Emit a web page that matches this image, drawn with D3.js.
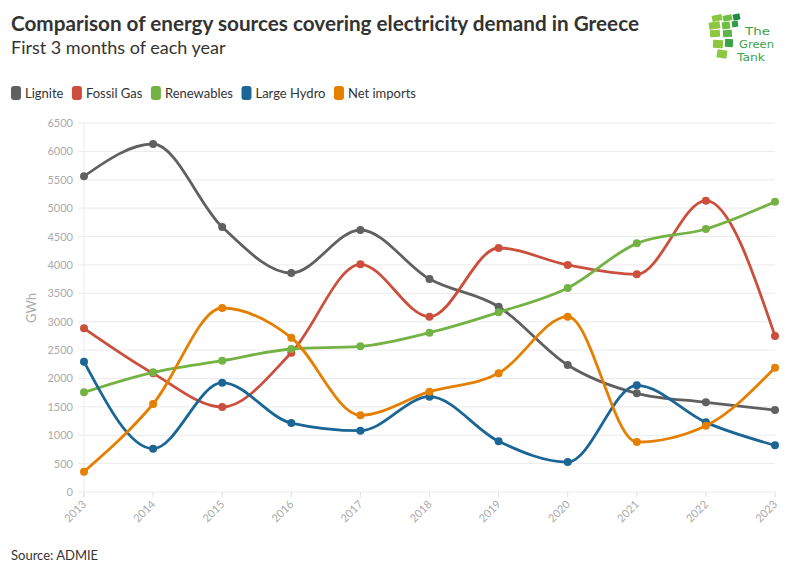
<!DOCTYPE html>
<html><head><meta charset="utf-8">
<script src="https://cdn.jsdelivr.net/npm/d3@7"></script>
<style>body{margin:0;background:#fff;}svg{display:block;font-family:Lato,"Source Sans Pro","Open Sans",sans-serif;}</style>
</head><body>
<svg id="c" width="796" height="575"></svg>
<script>
const years = [2013,2014,2015,2016,2017,2018,2019,2020,2021,2022,2023];
const lignite    = [5560,6130,4668,3858,4615,3752,3264,2237,1738,1580,1444];
const fossilGas  = [2884,2090,1497,2454,4010,3088,4298,3999,3834,5132,2748];
const renewables = [1756,2108,2313,2519,2566,2807,3165,3594,4380,4633,5114];
const largeHydro = [2296,763,1926,1215,1080,1679,893,528,1879,1227,822];
const netImports = [358,1550,3241,2718,1351,1767,2090,3088,881,1168,2190];
const seriesNames = ["Lignite","Fossil Gas","Renewables","Large Hydro","Net imports"];
const colors = ["#606060","#cb4f3c","#74b244","#1b6694","#e47f00"];
const yTicks = [0,500,1000,1500,2000,2500,3000,3500,4000,4500,5000,5500,6000,6500];

const seriesData = [lignite,fossilGas,renewables,largeHydro,netImports];
const svg = d3.select("#c");
const x = d3.scalePoint().domain(years).range([84,775]);
const y = d3.scaleLinear().domain([0,6500]).range([492,123]);

// title
svg.append("text").attr("x",11).attr("y",31).attr("font-size",20.7).attr("font-weight",700).attr("fill","#333")
  .text("Comparison of energy sources covering electricity demand in Greece");
svg.append("text").attr("x",11).attr("y",54).attr("font-size",18).attr("fill","#333")
  .text("First 3 months of each year");

// legend
let lx = 11;
seriesNames.forEach((n,i)=>{
  const g = svg.append("g");
  g.append("rect").attr("x",lx).attr("y",86).attr("width",10).attr("height",14).attr("rx",3).attr("fill",colors[i]);
  const t = g.append("text").attr("x",lx+14).attr("y",98).attr("font-size",13).attr("fill","#333").text(n);
  lx += 14 + t.node().getComputedTextLength() + 8.5;
});

// grid
svg.append("g").selectAll("line").data(yTicks).join("line")
  .attr("x1",78).attr("x2",775).attr("y1",d=>y(d)).attr("y2",d=>y(d))
  .attr("stroke","#ebebeb").attr("stroke-width",1);
svg.append("line").attr("x1",84).attr("x2",84).attr("y1",123).attr("y2",497).attr("stroke","#ebebeb");
svg.append("g").selectAll("line").data(years).join("line")
  .attr("x1",d=>x(d)).attr("x2",d=>x(d)).attr("y1",492).attr("y2",497).attr("stroke","#e0e0e0");

// y axis labels
svg.append("g").selectAll("text").data(yTicks).join("text")
  .attr("x",73).attr("y",d=>y(d)+4).attr("text-anchor","end").attr("font-size",11).attr("fill","#aaa").text(d=>d);
svg.append("text").attr("transform","translate(36,308) rotate(-90)").attr("text-anchor","middle")
  .attr("font-size",13).attr("fill","#aaa").text("GWh");

// x axis labels
svg.append("g").selectAll("text").data(years).join("text")
  .attr("transform",d=>`translate(${x(d)+3},${505}) rotate(-45)`).attr("text-anchor","end")
  .attr("font-size",11).attr("fill","#aaa").text(d=>d);

// lines
const line = d3.line().x((d,i)=>x(years[i])).y(d=>y(d)).curve(d3.curveMonotoneX);
seriesData.forEach((s,k)=>{
  svg.append("path").attr("d",line(s)).attr("fill","none").attr("stroke",colors[k]).attr("stroke-width",2.8);
  svg.append("g").selectAll("circle").data(s).join("circle")
    .attr("cx",(d,i)=>x(years[i])).attr("cy",d=>y(d)).attr("r",4).attr("fill",colors[k]);
});

// source
svg.append("text").attr("x",11).attr("y",560).attr("font-size",13).attr("fill","#333").text("Source: ADMIE");

// logo
const logo = svg.append("g");
const blocks = [
  [712,15,10,6,"#8dc63f"],[723,15,9,6,"#6fbe44"],[733,14,7,6,"#1e8a44"],
  [709,22,11,7,"#8dc63f"],[722,22,8,7,"#6fbe44"],[732,21,6,6,"#2e9b48"],
  [710,30,10,7,"#8dc63f"],[723,30,9,7,"#5cb746"],
  [713,40,10,8,"#8dc63f"],[725,39,8,8,"#3aa348"],
  [717,50,10,8,"#8dc63f"]
];
logo.selectAll("rect").data(blocks).join("rect")
  .attr("x",d=>d[0]).attr("y",d=>d[1]).attr("width",d=>d[2]).attr("height",d=>d[3]).attr("fill",d=>d[4])
  .attr("transform",d=>`rotate(${(d[1]-35)*0.6},${d[0]+d[2]/2},${d[1]+d[3]/2})`);
const logoText = [["The",745,35,25],["Green",739,48,35],["Tank",737,61,28]];
logoText.forEach(d=>{
  logo.append("text").attr("x",d[1]).attr("y",d[2]).attr("font-size",11)
    .attr("textLength",d[3]).attr("lengthAdjust","spacingAndGlyphs")
    .attr("fill","#3aa348").attr("font-family","'DejaVu Sans',sans-serif").text(d[0]);
});
</script>
</body></html>
